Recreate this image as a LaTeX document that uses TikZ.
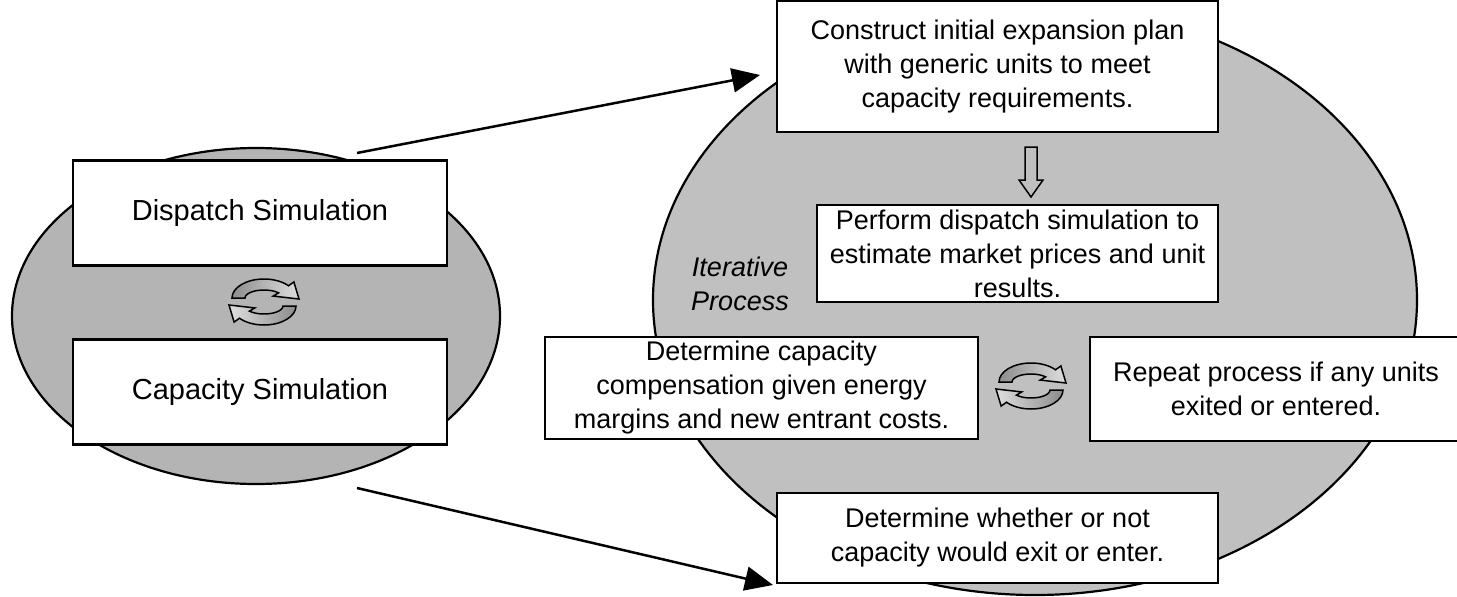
\documentclass[tikz,border=0pt]{standalone}
\usepackage{fontspec}
\setmainfont{Liberation Sans}
\usetikzlibrary{arrows.meta,shapes.geometric}

\definecolor{lgray}{RGB}{180,180,180}
\definecolor{rgray}{RGB}{192,192,192}
\newcommand{\smallfont}{\fontsize{27}{34}\selectfont}
\newcommand{\bigfont}{\fontsize{29}{35}\selectfont}

% two turning arrows, local y points up
\newcommand{\swapicon}[1]{%
 \begin{scope}[shift={#1},yscale=-1,line width=1.5pt]
  \begin{scope}[shift={(0,4)}]
   \draw[left color=gray!90,right color=gray!25] (180:32 and 19)
     arc[start angle=180,end angle=40,x radius=32,y radius=19]
     -- (40:39 and 25) -- (35,-1) -- (40:12 and 3) -- (40:19 and 8)
     arc[start angle=40,end angle=180,x radius=19,y radius=8] -- cycle;
  \end{scope}
  \begin{scope}[shift={(0,-4)}]
   \draw[left color=gray!25,right color=gray!90] (0:32 and 19)
     arc[start angle=0,end angle=-140,x radius=32,y radius=19]
     -- (220:39 and 25) -- (-35,1) -- (220:12 and 3) -- (220:19 and 8)
     arc[start angle=-140,end angle=0,x radius=19,y radius=8] -- cycle;
  \end{scope}
 \end{scope}}

\begin{document}
\begin{tikzpicture}[x=1pt,y=-1pt,
  simbox/.style={draw,line width=2.8pt,fill=white,inner sep=0,
    minimum width=374pt,minimum height=105pt,font=\bigfont},
  stepbox/.style={draw,line width=2.8pt,fill=white,inner sep=0,
    align=center,font=\smallfont},
  bigarrow/.style={line width=2.5pt,-{Triangle[length=28pt,width=24pt]}}]
 \useasboundingbox (0,0) rectangle (1457,597);

 % the two models
 \node[ellipse,draw,line width=2.2pt,fill=lgray,inner sep=0,
   minimum width=488pt,minimum height=336pt] (models) at (256,316) {};
 \node[ellipse,draw,line width=2.2pt,fill=rgray,inner sep=0,
   minimum width=764pt,minimum height=590pt] (iterate) at (1035,300) {};

 \node[simbox] (dispatch) at (260,213) {Dispatch Simulation};
 \node[simbox] (capacity) at (260,392) {Capacity Simulation};
 \coordinate (lcyc) at (264,302);
 \swapicon{(lcyc)}

 % zoom arrows
 \coordinate (ua) at (357,153);
 \coordinate (ub) at (760,75);
 \coordinate (la) at (357,488);
 \coordinate (lb) at (773,585);
 \draw[bigarrow] (ua) -- (ub);
 \draw[bigarrow] (la) -- (lb);

 % steps of the iteration
 \node[stepbox,minimum width=441pt,minimum height=131pt] (construct) at (997.5,66.5)
   {Construct initial expansion plan\\with generic units to meet\\capacity requirements.};
 \node[stepbox,minimum width=401pt,minimum height=97pt] (perform) at (1017.5,253.5)
   {Perform dispatch simulation to\\estimate market prices and unit\\results.};
 \node[stepbox,minimum width=433pt,minimum height=102pt] (detcap) at (761.5,388)
   {Determine capacity\\compensation given energy\\margins and new entrant costs.};
 \node[stepbox,minimum width=372pt,minimum height=104pt] (repeat) at (1276,389)
   {Repeat process if any units\\exited or entered.};
 \node[stepbox,minimum width=441pt,minimum height=90pt] (detexit) at (997.5,538)
   {Determine whether or not\\capacity would exit or enter.};
 \node[font=\smallfont\itshape,align=center] (iterlabel) at (740,284) {Iterative\\Process};

 \coordinate (dn) at (1031,147);
 \draw[line width=1.5pt,shift={(dn)}] (-6,0) -- (6,0) -- (6,33) -- (12,33)
   -- (0,50) -- (-12,33) -- (-6,33) -- cycle;
 \coordinate (rcyc) at (1031,386);
 \swapicon{(rcyc)}
\end{tikzpicture}
\end{document}
